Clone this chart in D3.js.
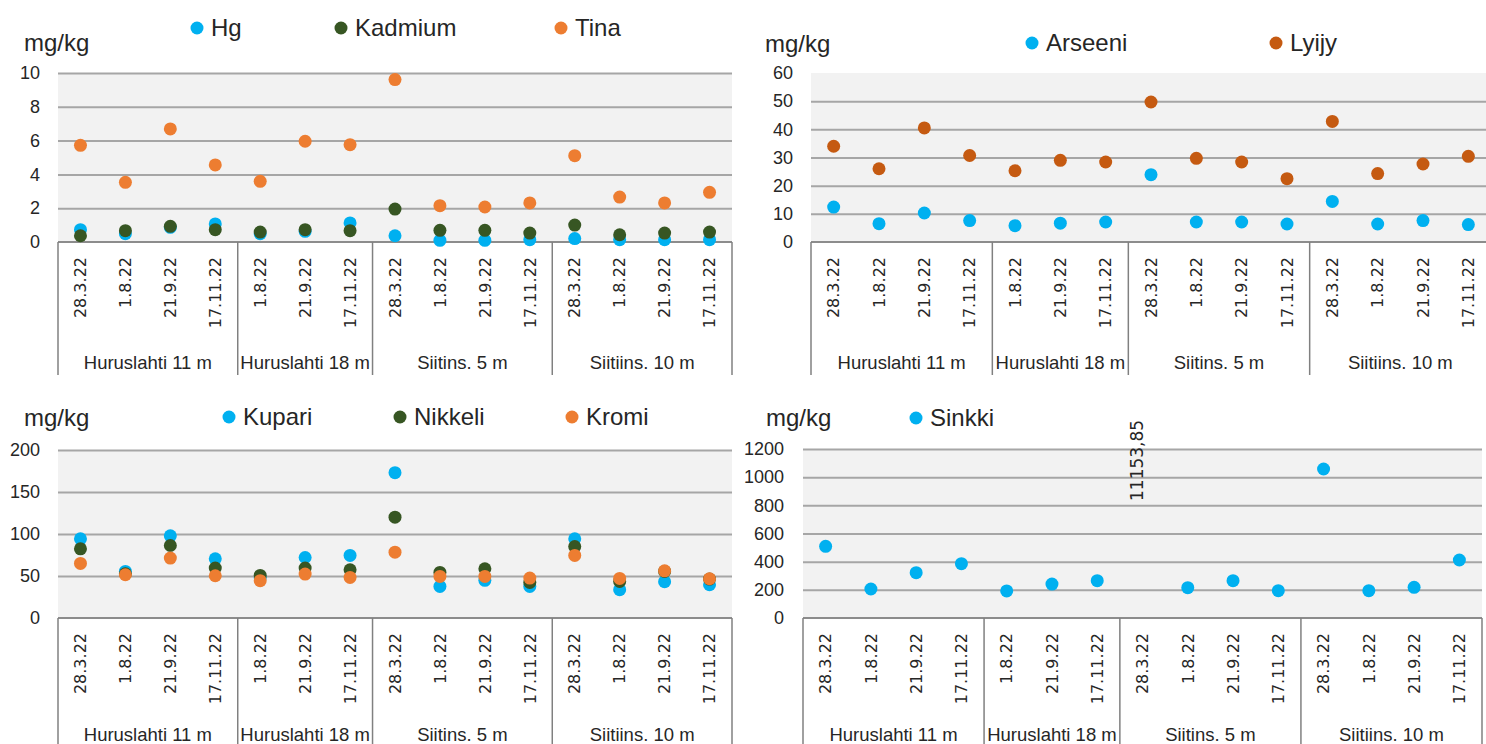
<!DOCTYPE html>
<html>
<head>
<meta charset="utf-8">
<script src="https://cdn.jsdelivr.net/npm/d3@7"></script>
<style>
  html, body { margin: 0; padding: 0; background: #ffffff; }
  svg { display: block; }
</style>
</head>
<body>
<script>
// ---------------- DATA ----------------
const groupNames = ["Huruslahti 11 m", "Huruslahti 18 m", "Siitins. 5 m", "Siitiins. 10 m"];
const groupDates = [
  ["28.3.22", "1.8.22", "21.9.22", "17.11.22"],
  ["1.8.22", "21.9.22", "17.11.22"],
  ["28.3.22", "1.8.22", "21.9.22", "17.11.22"],
  ["28.3.22", "1.8.22", "21.9.22", "17.11.22"]
];
const unitLabel = "mg/kg";

// Panel 1
const hg      = [0.73, 0.49, 0.87, 1.07, 0.49, 0.63, 1.13, 0.37, 0.10, 0.10, 0.14, 0.20, 0.14, 0.14, 0.14];
const kadmium = [0.37, 0.67, 0.93, 0.73, 0.59, 0.73, 0.67, 1.95, 0.69, 0.69, 0.53, 1.00, 0.43, 0.53, 0.59];
const tina    = [5.72, 3.53, 6.69, 4.56, 3.59, 5.96, 5.76, 9.61, 2.15, 2.07, 2.31, 5.11, 2.66, 2.31, 2.94];
const ticks1  = [0, 2, 4, 6, 8, 10];

// Panel 2
const arseeni = [12.4, 6.5, 10.3, 7.6, 5.8, 6.7, 7.1, 23.9, 7.1, 7.1, 6.4, 14.4, 6.4, 7.6, 6.2];
const lyijy   = [34.0, 26.0, 40.5, 30.7, 25.3, 29.0, 28.4, 49.7, 29.7, 28.4, 22.5, 42.8, 24.3, 27.7, 30.4];
const ticks2  = [0, 10, 20, 30, 40, 50, 60];

// Panel 3
const kupari  = [94.3, 55.4, 97.8, 70.5, 48.0, 72.0, 74.5, 173.0, 37.6, 44.8, 37.6, 94.3, 33.7, 43.2, 39.6];
const nikkeli = [82.4, 52.7, 86.3, 59.4, 50.7, 59.4, 57.4, 120.0, 54.3, 58.6, 42.4, 85.0, 43.6, 55.4, 46.3];
const kromi   = [65.0, 51.5, 71.3, 50.3, 44.4, 52.3, 48.3, 78.4, 49.5, 49.5, 47.5, 74.5, 47.1, 56.2, 46.7];
const ticks3  = [0, 50, 100, 150, 200];

// Panel 4
const sinkki  = [509, 206, 322, 386, 192, 241, 265, 11153.85, 215, 265, 194, 1058, 194, 218, 412];
const ticks4  = [0, 200, 400, 600, 800, 1000, 1200];

// ---------------- DRAWING ----------------
const W = 1486, H = 744;
const svg = d3.select("body").append("svg").attr("width", W).attr("height", H);
svg.append("rect").attr("width", W).attr("height", H).attr("fill", "#ffffff");

const categories = [];
groupDates.forEach((ds, gi) => ds.forEach((d, di) => categories.push({ key: gi + "|" + di, group: gi, date: d })));
const keys = categories.map(c => c.key);
const dateOf = Object.fromEntries(categories.map(c => [c.key, c.date]));

const TXT = "#262626";
const LABEL_FONT = "'Liberation Sans', Arial, sans-serif";
const DATE_FONT = "'DejaVu Sans', Verdana, sans-serif";

function panel(cfg) {
  const g = svg.append("g");
  const x = d3.scaleBand().domain(keys).range([cfg.left, cfg.right]);
  const y = d3.scaleLinear().domain([0, cfg.ticks[cfg.ticks.length - 1]]).range([cfg.bottom, cfg.top]);
  const yMax = y.domain()[1];

  // plot background
  g.append("rect")
    .attr("x", cfg.left).attr("y", cfg.top)
    .attr("width", cfg.right - cfg.left).attr("height", cfg.bottom - cfg.top)
    .attr("fill", "#f2f2f2");

  // gridlines
  const gridVals = cfg.ticks.filter(t => t > 0 && (cfg.topGrid || t < yMax));
  const grid = g.append("g").attr("transform", `translate(${cfg.left},0)`)
    .call(d3.axisLeft(y).tickValues(gridVals).tickSize(-(cfg.right - cfg.left)).tickFormat(""));
  grid.select(".domain").remove();
  grid.selectAll("line").attr("stroke", "#a6a6a6").attr("stroke-width", 2);

  // y tick labels
  const yl = g.append("g").attr("transform", `translate(${cfg.left},0)`)
    .call(d3.axisLeft(y).tickValues(cfg.ticks).tickSize(0).tickPadding(cfg.labelPad).tickFormat(d3.format("d")));
  yl.select(".domain").remove();
  yl.selectAll("text").attr("font-family", LABEL_FONT).attr("font-size", 18).attr("fill", TXT);

  // x axis (dates)
  const xa = g.append("g").attr("transform", `translate(0,${cfg.bottom})`)
    .call(d3.axisBottom(x).tickSize(0).tickFormat(k => dateOf[k]));
  xa.select(".domain").remove();
  xa.selectAll("text")
    .attr("font-family", DATE_FONT).attr("font-size", 16).attr("fill", TXT)
    .attr("transform", "rotate(-90)")
    .attr("text-anchor", "end")
    .attr("x", -15).attr("y", 0).attr("dy", "0.36em");

  // zero axis line
  g.append("line")
    .attr("x1", cfg.left).attr("x2", cfg.right)
    .attr("y1", cfg.bottom).attr("y2", cfg.bottom)
    .attr("stroke", "#8c8c8c").attr("stroke-width", 2);

  // group separators
  const bounds = groupNames.map((n, gi) => x(gi + "|0"));
  bounds.push(cfg.right);
  g.selectAll(".sep").data(bounds).enter().append("line")
    .attr("x1", d => d).attr("x2", d => d)
    .attr("y1", cfg.bottom).attr("y2", cfg.bottom + 133)
    .attr("stroke", "#808080").attr("stroke-width", 1.5);

  // group labels
  g.selectAll(".grp").data(groupNames).enter().append("text")
    .attr("x", (d, i) => (bounds[i] + bounds[i + 1]) / 2)
    .attr("y", Math.min(cfg.bottom + 127, H - 3))
    .attr("text-anchor", "middle")
    .attr("font-family", LABEL_FONT).attr("font-size", 18.5).attr("fill", TXT)
    .text(d => d);

  // series points
  cfg.series.forEach(s => {
    const pts = keys.map((k, i) => ({ k, v: s.values[i] }));
    g.selectAll(null).data(pts.filter(p => p.v <= yMax)).enter().append("circle")
      .attr("cx", p => x(p.k) + x.bandwidth() / 2)
      .attr("cy", p => y(p.v))
      .attr("r", 6.5)
      .attr("fill", s.color);
    // out-of-range values shown as a data label
    g.selectAll(null).data(pts.filter(p => p.v > yMax)).enter().append("text")
      .attr("transform", p => `translate(${x(p.k) + x.bandwidth() / 2},${cfg.bottom - 117}) rotate(-90)`)
      .attr("text-anchor", "start")
      .attr("font-family", DATE_FONT).attr("font-size", 17).attr("fill", TXT)
      .text(p => String(p.v).replace(".", ","));
  });

  // unit label
  g.append("text")
    .attr("x", cfg.unitX).attr("y", cfg.unitY).attr("dy", "0.35em")
    .attr("font-family", LABEL_FONT).attr("font-size", 24).attr("fill", TXT)
    .text(unitLabel);

  // legend
  cfg.series.forEach((s, i) => {
    const lx = cfg.legendX[i];
    g.append("circle").attr("cx", lx).attr("cy", cfg.legendY).attr("r", 6.5).attr("fill", s.color);
    g.append("text")
      .attr("x", lx + 14).attr("y", cfg.legendY).attr("dy", "0.35em")
      .attr("font-family", LABEL_FONT).attr("font-size", 24).attr("fill", TXT)
      .text(s.name);
  });
}

const BLUE = "#00b0f0", GREEN = "#375623", ORANGE = "#ed7d31", BROWN = "#c55a11";

panel({
  left: 58, right: 732, top: 73, bottom: 242, ticks: ticks1, topGrid: true, labelPad: 18,
  series: [
    { name: "Hg", values: hg, color: BLUE },
    { name: "Kadmium", values: kadmium, color: GREEN },
    { name: "Tina", values: tina, color: ORANGE }
  ],
  legendX: [197, 341, 561], legendY: 28, unitX: 24, unitY: 43
});

panel({
  left: 811, right: 1491, top: 73, bottom: 242, ticks: ticks2, topGrid: false, labelPad: 18,
  series: [
    { name: "Arseeni", values: arseeni, color: BLUE },
    { name: "Lyijy", values: lyijy, color: BROWN }
  ],
  legendX: [1032, 1276], legendY: 43, unitX: 765, unitY: 44
});

panel({
  left: 58, right: 732, top: 450, bottom: 618, ticks: ticks3, topGrid: true, labelPad: 18,
  series: [
    { name: "Kupari", values: kupari, color: BLUE },
    { name: "Nikkeli", values: nikkeli, color: GREEN },
    { name: "Kromi", values: kromi, color: ORANGE }
  ],
  legendX: [229, 400, 572], legendY: 417, unitX: 24, unitY: 418
});

panel({
  left: 803, right: 1482, top: 449, bottom: 618, ticks: ticks4, topGrid: true, labelPad: 19,
  series: [
    { name: "Sinkki", values: sinkki, color: BLUE }
  ],
  legendX: [916], legendY: 418, unitX: 766, unitY: 418
});
</script>
</body>
</html>
